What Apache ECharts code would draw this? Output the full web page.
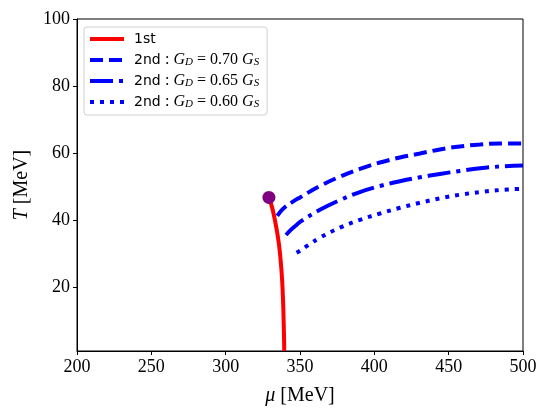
<!DOCTYPE html>
<html>
<head>
<meta charset="utf-8">
<title></title>
<script src="https://cdn.jsdelivr.net/npm/echarts@6/dist/echarts.min.js"></script>
<style>
html, body { margin: 0; height: 100%; background: #fff; }
#main { width: 550px; height: 416px; }
</style>
</head>
<body>
<div id="main"></div>
<script>
// [mu, T] in MeV
var firstOrder = [[329.1, 46.8], [330.8, 44.5], [332.2, 42.0], [334.2, 37.5], [335.8, 33.0],
    [337.0, 28.0], [338.0, 22.0], [338.6, 16.0], [339.0, 10.0], [339.3, 4.0], [339.4, 1.0]];
var second070 = [[334.7, 41.3], [338.8, 43.5], [345.5, 45.6], [350, 46.8], [363.4, 50.2],
    [376.9, 53.0], [390.3, 55.3], [403.8, 57.2], [417.2, 58.7], [430.7, 59.9], [444.1, 61.1],
    [457.6, 62.0], [471.1, 62.6], [484.5, 62.9], [500, 62.9]];
var second065 = [[340.6, 35.6], [344, 37.2], [347.7, 38.6], [350, 39.5], [363.4, 43.1],
    [376.9, 46.0], [390.3, 48.4], [403.8, 50.2], [417.2, 51.6], [430.7, 52.8], [444.1, 53.8],
    [457.6, 54.7], [471.1, 55.5], [484.5, 56.0], [500, 56.3]];
var second060 = [[347.7, 30.3], [350, 30.9], [355.6, 32.6], [363.4, 34.8], [376.9, 37.8],
    [390.3, 40.1], [403.8, 42.0], [417.2, 43.7], [430.7, 45.2], [444.1, 46.5], [457.6, 47.6],
    [471.1, 48.4], [484.5, 49.0], [500, 49.4]];
var criticalPoint = [[329.1, 46.8]];

var seriesNames = ['1st', 'g070', 'g065', 'g060'];
var ratios = ['0.70', '0.65', '0.60'];
var yTicks = [20, 40, 60, 80, 100];

var myChart = echarts.init(document.getElementById('main'));

function lineSeries(name, data, color, dash) {
    return {
        name: name,
        type: 'line',
        data: data,
        smooth: 0.4,
        symbol: 'none',
        lineStyle: { color: color, width: 4, type: dash, cap: 'butt' },
        itemStyle: { color: color },
        emphasis: { disabled: true },
        animation: false
    };
}

var serif = 'Liberation Serif';

option = {
    backgroundColor: '#fff',
    animation: false,
    grid: {
        left: 77, right: 27, top: 19, bottom: 65,
        show: true, borderColor: '#000', borderWidth: 1
    },
    legend: {
        data: seriesNames,
        orient: 'vertical',
        left: 84, top: 27,
        padding: [4, 8, 5, 4],
        itemGap: 5,
        itemWidth: 34,
        itemHeight: 16,
        backgroundColor: 'rgba(255,255,255,0.8)',
        borderColor: '#d0d0d0',
        borderWidth: 1,
        borderRadius: 3,
        itemStyle: { color: 'rgba(0,0,0,0)', opacity: 0, borderWidth: 0 },
        lineStyle: { width: 4 },
        textStyle: {
            fontFamily: 'DejaVu Sans',
            fontSize: 14,
            color: '#000',
            lineHeight: 16,
            padding: [0, 0, 0, 5],
            rich: {
                m: { fontFamily: serif, fontSize: 16, lineHeight: 16, color: '#000' },
                i: { fontFamily: serif, fontStyle: 'italic', fontSize: 16, lineHeight: 16, color: '#000' },
                sub: { fontFamily: serif, fontStyle: 'italic', fontSize: 11, lineHeight: 8,
                       verticalAlign: 'bottom', color: '#000' }
            }
        },
        formatter: function (name) {
            var k = seriesNames.indexOf(name);
            if (k === 0) return '1st';
            return '2nd {m|: }{i|G}{sub|D}{m| = ' + ratios[k - 1] + ' }{i|G}{sub|S}';
        }
    },
    xAxis: {
        type: 'value',
        min: 200, max: 500, interval: 50,
        name: '{i|μ} [MeV]',
        nameLocation: 'middle',
        nameGap: 35,
        nameTextStyle: {
            fontFamily: serif, fontSize: 20, color: '#000',
            rich: { i: { fontFamily: serif, fontStyle: 'italic', fontSize: 20, color: '#000' } }
        },
        splitLine: { show: false },
        axisLine: { lineStyle: { color: '#000', width: 1 } },
        axisTick: { length: 4, lineStyle: { color: '#000' } },
        axisLabel: { fontFamily: serif, fontSize: 18, color: '#000', margin: 7 }
    },
    yAxis: {
        type: 'value',
        min: 1, max: 100,
        name: '{i|T} [MeV]',
        nameLocation: 'middle',
        nameRotate: 90,
        nameGap: 43,
        nameTextStyle: {
            fontFamily: serif, fontSize: 20, color: '#000',
            rich: { i: { fontFamily: serif, fontStyle: 'italic', fontSize: 20, color: '#000' } }
        },
        splitLine: { show: false },
        axisLine: { show: true, lineStyle: { color: '#000', width: 1 } },
        axisTick: { show: true, length: 4, customValues: yTicks, lineStyle: { color: '#000' } },
        axisLabel: { fontFamily: serif, fontSize: 18, color: '#000', margin: 7, customValues: yTicks }
    },
    series: [
        lineSeries('1st', firstOrder, '#ff0000', 'solid'),
        lineSeries('g070', second070, '#0000ff', [13, 6]),
        lineSeries('g065', second065, '#0000ff', [23, 6, 4, 6]),
        lineSeries('g060', second060, '#0000ff', [4, 6]),
        {
            name: 'CEP',
            type: 'scatter',
            data: criticalPoint,
            symbolSize: 13,
            itemStyle: { color: '#800080', opacity: 1 },
            emphasis: { disabled: true },
            z: 5
        }
    ]
};
myChart.setOption(option);
</script>
</body>
</html>
